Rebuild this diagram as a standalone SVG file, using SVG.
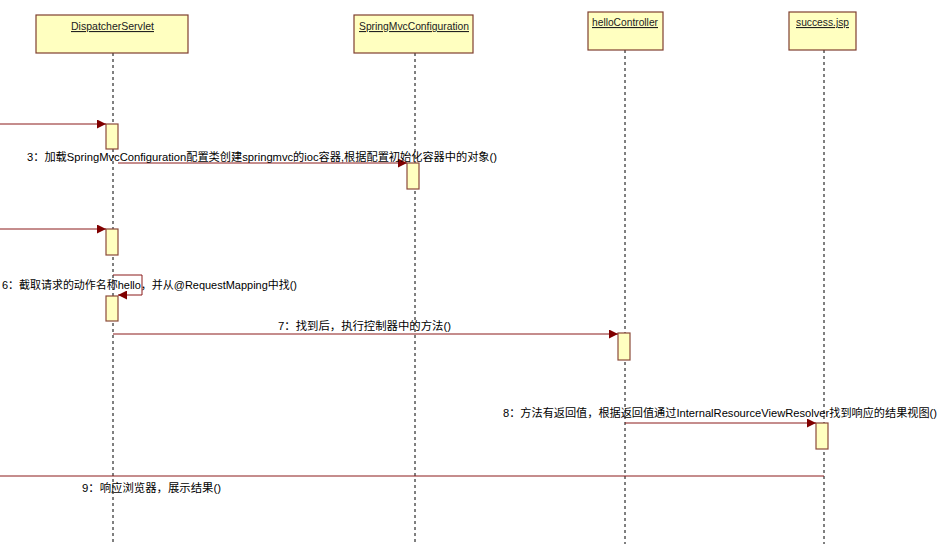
<svg xmlns="http://www.w3.org/2000/svg" width="941" height="544" viewBox="0 0 941 544">
<style>
.box{fill:#FFFFC0;stroke:#7F3F2F;stroke-width:1.2}
.act{fill:#FFFFC0;stroke:#8B4A3A;stroke-width:1.2}
.life{stroke:#000;stroke-width:1;stroke-dasharray:3,3;fill:none}
.msg{stroke:#8B1A1A;stroke-width:1;fill:none}
.t{font-family:"Liberation Sans","Noto Sans CJK SC",sans-serif;font-size:11px;fill:#000}
.n{font-family:"Liberation Sans",sans-serif;font-size:11px;fill:#222;text-decoration:underline}
</style>
<defs>
<marker id="ah" viewBox="0 0 10 10" refX="10" refY="5" markerWidth="10" markerHeight="9" markerUnits="userSpaceOnUse" orient="auto">
<path d="M0,0 L10,5 L0,10 z" fill="#800000"/>
</marker>
</defs>
<g id="lifelines">
<line class="life" x1="113" y1="53" x2="113" y2="544"/>
<line class="life" x1="415" y1="53" x2="415" y2="544"/>
<line class="life" x1="625" y1="50" x2="625" y2="544"/>
<line class="life" x1="824" y1="50" x2="824" y2="544"/>
</g>
<g id="DispatcherServlet">
<rect class="box" x="36" y="15" width="152" height="38"/>
<text class="n" x="71" y="30" textLength="83" lengthAdjust="spacingAndGlyphs">DispatcherServlet</text>
</g>
<g id="SpringMvcConfiguration">
<rect class="box" x="354" y="15" width="119" height="38"/>
<text class="n" x="359" y="30" textLength="110" lengthAdjust="spacingAndGlyphs">SpringMvcConfiguration</text>
</g>
<g id="helloController">
<rect class="box" x="588" y="12" width="75" height="38"/>
<text class="n" x="592" y="26" textLength="66" lengthAdjust="spacingAndGlyphs">helloController</text>
</g>
<g id="success_jsp">
<rect class="box" x="789" y="12" width="67" height="38"/>
<text class="n" x="796" y="26" textLength="53" lengthAdjust="spacingAndGlyphs">success.jsp</text>
</g>
<g id="activations">
<rect class="act" x="106" y="124" width="12" height="25"/>
<rect class="act" x="407" y="163" width="12" height="26"/>
<rect class="act" x="106" y="229" width="12" height="26"/>
<rect class="act" x="106" y="296" width="12" height="25"/>
<rect class="act" x="618" y="333" width="12" height="27"/>
<rect class="act" x="816" y="423" width="12" height="26"/>
</g>
<g id="connectors">
<line class="msg" x1="0" y1="124" x2="106" y2="124" marker-end="url(#ah)"/>
<line class="msg" x1="118" y1="163" x2="407" y2="163" marker-end="url(#ah)"/>
<line class="msg" x1="0" y1="229" x2="106" y2="229" marker-end="url(#ah)"/>
<polyline class="msg" points="113,275 142,275 142,295 118,295" marker-end="url(#ah)"/>
<line class="msg" x1="113" y1="334" x2="618" y2="334" marker-end="url(#ah)"/>
<line class="msg" x1="625" y1="423" x2="816" y2="423" marker-end="url(#ah)"/>
<line class="msg" x1="824" y1="476" x2="0" y2="476"/>
</g>
<g id="labels">
<text class="t" x="27" y="161" textLength="470" lengthAdjust="spacingAndGlyphs">3：加载SpringMvcConfiguration配置类创建springmvc的ioc容器,根据配置初始化容器中的对象()</text>
<text class="t" x="2" y="289" textLength="295" lengthAdjust="spacingAndGlyphs">6：截取请求的动作名称hello，并从@RequestMapping中找()</text>
<text class="t" x="278" y="330" textLength="173" lengthAdjust="spacingAndGlyphs">7：找到后，执行控制器中的方法()</text>
<text class="t" x="503" y="417" textLength="434" lengthAdjust="spacingAndGlyphs">8：方法有返回值，根据返回值通过InternalResourceViewResolver找到响应的结果视图()</text>
<text class="t" x="82" y="492" textLength="139" lengthAdjust="spacingAndGlyphs">9：响应浏览器，展示结果()</text>
</g>
</svg>
